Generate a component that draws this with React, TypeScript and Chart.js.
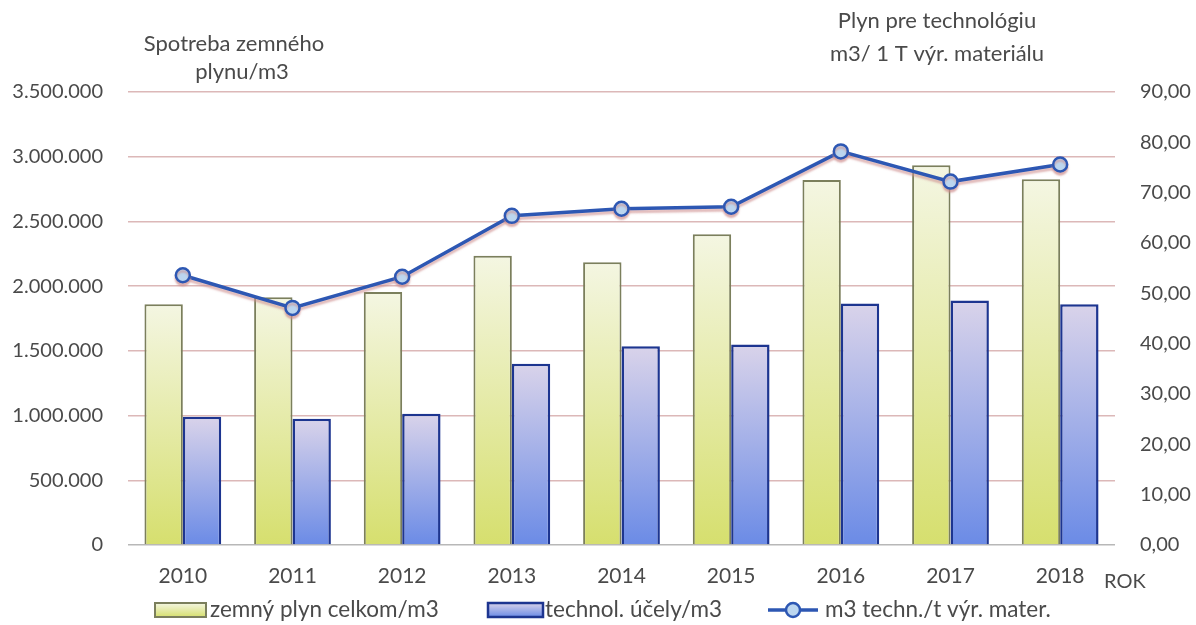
import React, { useEffect, useRef } from "react";
import { Chart, registerables } from "chart.js";

Chart.register(...registerables);

const years = ["2010", "2011", "2012", "2013", "2014", "2015", "2016", "2017", "2018"];
const totalGas = [1860000, 1915000, 1955000, 2235000, 2185000, 2400000, 2820000, 2935000, 2825000];
const techGas = [990000, 975000, 1015000, 1400000, 1535000, 1550000, 1865000, 1890000, 1860000];
const perTon = [53.6, 47.1, 53.3, 65.4, 66.8, 67.2, 78.2, 72.2, 75.6];

const seriesNames = ["zemný plyn celkom/m3", "technol. účely/m3", "m3 techn./t výr. mater."];
const leftTitle = ["Spotreba zemného", "plynu/m3"];
const rightTitle = ["Plyn pre technológiu", "m3/ 1 T výr. materiálu"];
const axisUnit = "ROK";

const FONT = "Lato, 'Noto Sans', sans-serif";
const NARROW = "'Liberation Sans Narrow', Lato, sans-serif";
const TEXT = "#4a4a4a";

const GREEN_TOP = "#f4f6e2";
const GREEN_BOT = "#d6df6e";
const GREEN_BORDER = "#7b7f5c";
const BLUE_TOP = "#d9d3ea";
const BLUE_BOT = "#6b8be6";
const BLUE_BORDER = "#1d3590";
const LINE = "#2d57b3";
const POINT_FILL = "#bcd6ef";

function barGradient(top: string, bot: string, fallback: string) {
  return (context: any) => {
    const chart = context.chart;
    if (!chart.chartArea || context.raw === undefined || context.type !== "data") return fallback;
    const ys = chart.scales.y;
    const t = ys.getPixelForValue(context.raw);
    const b = ys.getPixelForValue(0);
    const g = chart.ctx.createLinearGradient(0, t, 0, b);
    g.addColorStop(0, top);
    g.addColorStop(1, bot);
    return g;
  };
}

const fmtThousands = (v: number) => {
  const s = Math.round(v).toString();
  return s.replace(/\B(?=(\d{3})+(?!\d))/g, ".");
};

const decorPlugin = {
  id: "decor",
  beforeDatasetDraw(chart: any, args: any) {
    if (args.index === 2) {
      const ctx = chart.ctx;
      ctx.save();
      ctx.shadowColor = "rgba(205,140,140,0.6)";
      ctx.shadowOffsetX = 0;
      ctx.shadowOffsetY = 3;
      ctx.shadowBlur = 2;
    }
  },
  afterDatasetDraw(chart: any, args: any) {
    if (args.index === 2) chart.ctx.restore();
  },
  afterDraw(chart: any) {
    const ctx = chart.ctx;
    ctx.save();
    ctx.fillStyle = TEXT;
    ctx.font = `22px ${FONT}`;
    ctx.textAlign = "center";
    ctx.textBaseline = "middle";
    ctx.fillText(leftTitle[0], 234, 44);
    ctx.fillText(leftTitle[1], 242, 72);
    ctx.fillText(rightTitle[0], 937, 21);
    ctx.fillText(rightTitle[1], 937, 54);
    ctx.font = `20px ${NARROW}`;
    ctx.textAlign = "left";
    ctx.fillText(axisUnit, 1104, 582);

    // legend
    const ly = 610;
    ctx.font = `22.5px ${FONT}`;
    ctx.textBaseline = "middle";
    let g = ctx.createLinearGradient(0, ly - 7, 0, ly + 7);
    g.addColorStop(0, GREEN_TOP);
    g.addColorStop(1, GREEN_BOT);
    ctx.fillStyle = g;
    ctx.fillRect(155, ly - 7, 51, 14);
    ctx.strokeStyle = GREEN_BORDER;
    ctx.lineWidth = 2;
    ctx.strokeRect(155, ly - 7, 51, 14);
    ctx.fillStyle = TEXT;
    ctx.fillText(seriesNames[0], 210, ly);
    g = ctx.createLinearGradient(0, ly - 7, 0, ly + 7);
    g.addColorStop(0, BLUE_TOP);
    g.addColorStop(1, BLUE_BOT);
    ctx.fillStyle = g;
    ctx.fillRect(488, ly - 7, 55, 14);
    ctx.strokeStyle = BLUE_BORDER;
    ctx.lineWidth = 2.5;
    ctx.strokeRect(488, ly - 7, 55, 14);
    ctx.fillStyle = TEXT;
    ctx.fillText(seriesNames[1], 545, ly);
    ctx.strokeStyle = LINE;
    ctx.lineWidth = 3.5;
    ctx.beginPath();
    ctx.moveTo(768, ly);
    ctx.lineTo(818, ly);
    ctx.stroke();
    ctx.beginPath();
    ctx.arc(793, ly, 7, 0, Math.PI * 2);
    ctx.fillStyle = POINT_FILL;
    ctx.fill();
    ctx.lineWidth = 2.5;
    ctx.stroke();
    ctx.fillStyle = TEXT;
    ctx.fillText(seriesNames[2], 825, ly);
    ctx.restore();
  },
};

export default function App() {
  const ref = useRef<HTMLCanvasElement | null>(null);
  useEffect(() => {
    if (!ref.current) return;
    const chart = new Chart(ref.current, {
      type: "bar",
      data: {
        labels: years,
        datasets: [
          {
            type: "bar",
            label: seriesNames[0],
            data: totalGas,
            yAxisID: "y",
            backgroundColor: barGradient(GREEN_TOP, GREEN_BOT, GREEN_BOT),
            borderColor: GREEN_BORDER,
            borderWidth: 2,
            categoryPercentage: 0.7,
            barPercentage: 1.0,
            order: 2,
          },
          {
            type: "bar",
            label: seriesNames[1],
            data: techGas,
            yAxisID: "y",
            backgroundColor: barGradient(BLUE_TOP, BLUE_BOT, BLUE_BOT),
            borderColor: BLUE_BORDER,
            borderWidth: 2.5,
            categoryPercentage: 0.7,
            barPercentage: 1.0,
            order: 2,
          },
          {
            type: "line",
            label: seriesNames[2],
            data: perTon,
            yAxisID: "y1",
            borderColor: LINE,
            borderWidth: 3.5,
            pointRadius: 7,
            pointBackgroundColor: POINT_FILL,
            pointBorderColor: LINE,
            pointBorderWidth: 2.5,
            tension: 0,
            order: 1,
          },
        ],
      },
      options: {
        responsive: false,
        animation: false,
        devicePixelRatio: 1,
        layout: { padding: { top: 92, left: 0, right: 0, bottom: 0 } },
        plugins: { legend: { display: false }, tooltip: { enabled: false }, title: { display: false } },
        scales: {
          x: {
            grid: { display: false, drawTicks: false },
            border: { display: false },
            ticks: { color: TEXT, font: { family: NARROW, size: 21 }, padding: 19 },
            afterFit: (s: any) => {
              s.height = 80;
            },
          },
          y: {
            position: "left",
            min: 0,
            max: 3500000,
            border: { display: false },
            grid: {
              drawTicks: false,
              color: (c: any) => (c.tick && c.tick.value === 0 ? "#b8b8b8" : "#dcb8b8"),
              lineWidth: 1.5,
            },
            ticks: {
              stepSize: 500000,
              color: TEXT,
              font: { family: FONT, size: 20 },
              padding: 25,
              callback: (v: any) => fmtThousands(Number(v)),
            },
            afterFit: (s: any) => {
              s.width = 128;
            },
          },
          y1: {
            position: "right",
            min: 0,
            max: 90,
            border: { display: false },
            grid: { display: false, drawTicks: false },
            ticks: {
              stepSize: 10,
              color: TEXT,
              font: { family: FONT, size: 20 },
              padding: 25,
              callback: (v: any) => Number(v).toFixed(2).replace(".", ","),
            },
            afterFit: (s: any) => {
              s.width = 81;
            },
          },
        },
      },
      plugins: [decorPlugin],
    });
    return () => chart.destroy();
  }, []);
  return (
    <div style={{ position: "absolute", left: 0, top: 0, width: 1196, height: 625, background: "#fff" }}>
      <canvas ref={ref} width={1196} height={625} style={{ width: 1196, height: 625, display: "block" }} />
    </div>
  );
}
